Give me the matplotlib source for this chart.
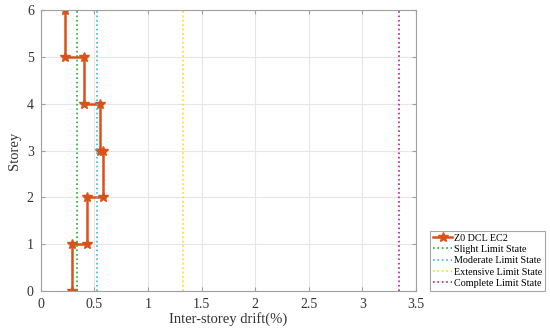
from matplotlib import pyplot as plt

# drift profile (step plot)
drift = [0.29, 0.29, 0.435, 0.435, 0.58, 0.58, 0.555, 0.555, 0.40, 0.40, 0.227, 0.227]
storey = [0, 1, 1, 2, 2, 3, 3, 4, 4, 5, 5, 6]

limit_names = ['Slight Limit State', 'Moderate Limit State',
               'Extensive Limit State', 'Complete Limit State']
limit_values = [0.335, 0.525, 1.33, 3.34]
limit_colors = ['#22b022', '#33bbdd', '#f0e020', '#b020a0']

plt.rcParams['font.family'] = 'Liberation Serif'

fig = plt.figure(figsize=(5.5, 3.33), dpi=100)
ax = fig.add_axes([40.7 / 550, 1 - 291 / 333, (416 - 40.7) / 550, (291 - 10) / 333])

ax.plot(drift, storey, color='#d95319', lw=1.8, marker='*', ms=7,
        label='Z0 DCL EC2')
for name, val, col in zip(limit_names, limit_values, limit_colors):
    ax.plot([val, val], [0, 6], ls=':', lw=1.2, color=col, label=name)

ax.set_xlim(0, 3.5)
ax.set_ylim(0, 6)
ax.set_xticks([0, 0.5, 1, 1.5, 2, 2.5, 3, 3.5])
ax.set_xticklabels(['0', '0.5', '1', '1.5', '2', '2.5', '3', '3.5'])
ax.set_yticks(range(7))
ax.grid(True, color='#e6e6e6', lw=0.8)
ax.set_axisbelow(True)
for s in ax.spines.values():
    s.set_color('#a0a0a0')
    s.set_linewidth(0.8)
ax.tick_params(direction='in', length=3, color='#a0a0a0', labelsize=10,
               labelcolor='#333333', pad=5, top=True, right=True,
               labeltop=False, labelright=False)
ax.set_xlabel('Inter-storey drift(%)', fontsize=10.5, color='#333333', labelpad=1)
ax.set_ylabel('Storey', fontsize=10.5, color='#333333', labelpad=4)

leg = ax.legend(loc='lower left', bbox_to_anchor=(1.037, 0.0), fontsize=7.3,
                frameon=True, fancybox=False, edgecolor='#909090',
                borderaxespad=0, handlelength=1.9, handletextpad=0.15,
                borderpad=0.3, labelspacing=0.22)
leg.get_frame().set_linewidth(0.8)

fig.savefig('out.png', dpi=100)
